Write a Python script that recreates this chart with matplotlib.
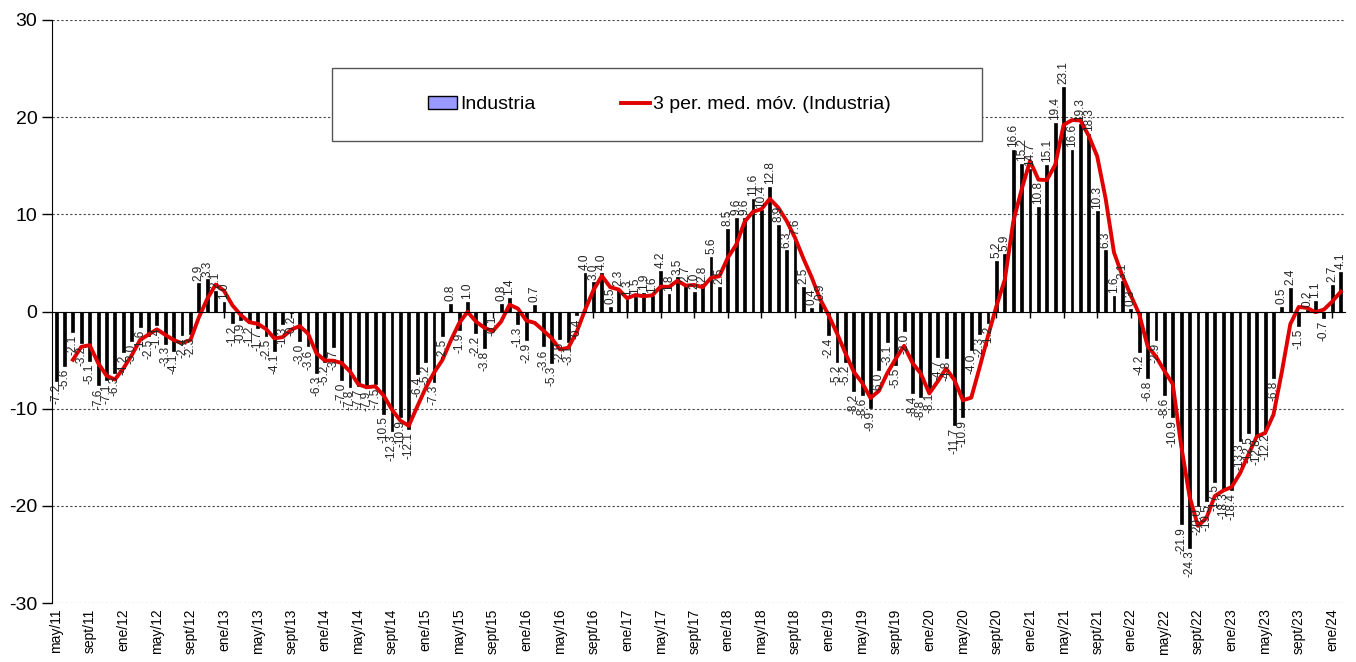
import numpy as np
import pandas as pd
import matplotlib
matplotlib.use("Agg")
import matplotlib.pyplot as plt
from matplotlib.patches import Rectangle, Patch
from matplotlib.lines import Line2D

plt.rcParams['font.family'] = ['Liberation Sans', 'DejaVu Sans']
plt.rcParams['axes.unicode_minus'] = False

# Datos: variación mensual Industria, may/11 a feb/24
industria = [
    -7.2, -5.6, -2.1, -3.2, -5.1, -7.6, -7.1, -6.3, -4.2, -3.0, -1.6, -2.5,
    -1.4, -3.3, -4.1, -2.4, -2.3, 2.9, 3.3, 2.1, 1.0, -1.2, -0.9, -1.2,
    -1.7, -2.5, -4.1, -1.3, -0.2, -3.0, -3.6, -6.3, -5.2, -3.7, -7.0, -7.8,
    -7.7, -7.9, -7.5, -10.5, -12.3, -10.9, -12.1, -6.4, -5.2, -7.3, -2.5, 0.8,
    -1.9, 1.0, -2.2, -3.8, -0.1, 0.8, 1.4, -1.3, -2.9, 0.7, -3.6, -5.3,
    -2.8, -3.1, -0.4, 4.0, 3.0, 4.0, 0.5, 2.3, 1.3, 1.5, 1.9, 1.6,
    4.2, 1.8, 3.5, 2.7, 2.0, 2.8, 5.6, 2.5, 8.5, 9.6, 9.6, 11.6,
    10.4, 12.8, 8.9, 6.3, 7.6, 2.5, 0.4, 0.9, -2.4, -5.2, -5.2, -8.2,
    -8.6, -9.9, -6.0, -3.1, -5.5, -2.0, -8.4, -8.8, -8.1, -4.7, -4.8, -11.7,
    -10.9, -4.0, -2.3, -1.2, 5.2, 5.9, 16.6, 15.2, 14.7, 10.8, 15.1, 19.4,
    23.1, 16.6, 19.3, 18.3, 10.3, 6.3, 1.6, 3.1, 0.3, -4.2, -6.8, -2.9,
    -8.6, -10.9, -21.9, -24.3, -20.0, -19.5, -17.5, -18.3, -18.4, -13.3, -12.5, -12.8,
    -12.2, -6.8, 0.5, 2.4, -1.5, 0.2, 1.1, -0.7, 2.7, 4.1,
]

meses = ['ene', 'feb', 'mar', 'abr', 'may', 'jun', 'jul', 'ago', 'sept', 'oct', 'nov', 'dic']
mes_inicio = 4      # mayo
anio_inicio = 2011

# etiquetas de cada mes
etiquetas = []
for i in range(len(industria)):
    m = (mes_inicio + i) % 12
    a = anio_inicio + (mes_inicio + i) // 12
    etiquetas.append(f"{meses[m]}/{a % 100:02d}")

# media móvil de 3 periodos
media_movil = pd.Series(industria).rolling(3).mean()

x = np.arange(len(industria))

fig = plt.figure(figsize=(13.56, 6.62), dpi=100)
ax = fig.add_axes([0.0383, 0.0891, 0.9535, 0.8807])

barras = ax.bar(x, industria, width=0.34, color='black', edgecolor='black',
                linewidth=0.5, zorder=2)
ax.plot(x, media_movil, color='#E00000', lw=2.8, zorder=3)

ax.bar_label(barras, labels=[f"{v:.1f}" for v in industria], rotation=90,
             padding=2, fontsize=8.5, color='#222222')

ax.set_xlim(-0.5, len(industria) - 0.5)
ax.set_ylim(-30, 30)
ax.set_yticks(range(-30, 31, 10))
ax.tick_params(axis='y', labelsize=14, length=7, direction='out', width=1)
ax.yaxis.grid(True, linestyle=(0, (2, 2)), color='#444444', lw=0.8)
ax.set_axisbelow(True)

ax.spines['top'].set_visible(False)
ax.spines['right'].set_visible(False)
ax.spines['bottom'].set_position(('data', 0))
ax.spines['bottom'].set_zorder(4)

ticks = x[::4]
ax.set_xticks(ticks)
ax.tick_params(axis='x', labelbottom=False, length=4, direction='out', width=1)

# etiquetas del eje x abajo del área
ax2 = ax.twiny()
ax2.set_xlim(ax.get_xlim())
ax2.xaxis.set_ticks_position('bottom')
ax2.set_xticks(ticks)
ax2.set_xticklabels([etiquetas[i] for i in ticks], rotation=90, fontsize=10)
ax2.tick_params(axis='x', length=0, pad=4)
for s in ax2.spines.values():
    s.set_visible(False)

# leyenda
caja = Rectangle((0.2448, 0.787), 0.4794, 0.110, transform=fig.transFigure,
                 facecolor='white', edgecolor='#555555', lw=1, zorder=5)
fig.patches.append(caja)
h_barra = Patch(facecolor='#9999FF', edgecolor='black', label='Industria')
h_linea = Line2D([], [], color='#E00000', lw=2.8, label='3 per. med. móv. (Industria)')
fig.legend(handles=[h_barra, h_linea], loc='center', bbox_to_anchor=(0.4865, 0.842),
           ncol=2, frameon=False, fontsize=14, columnspacing=4.4, handlelength=1.5,
           handletextpad=0.15).set_zorder(6)

fig.savefig('out.png', dpi=100)
